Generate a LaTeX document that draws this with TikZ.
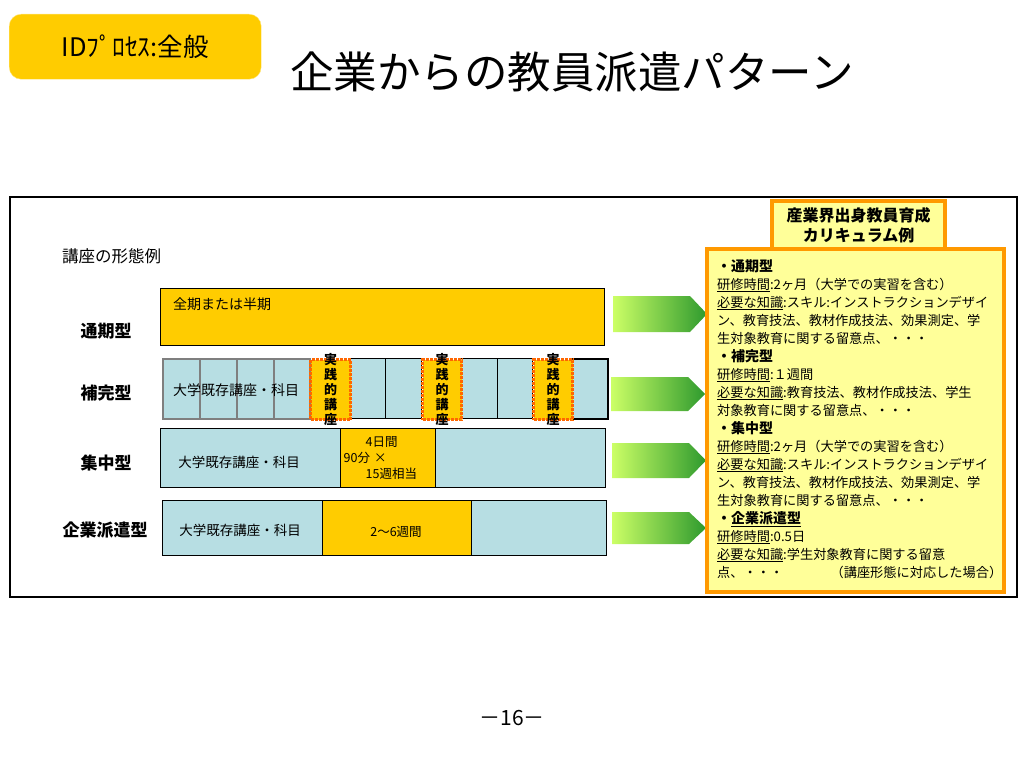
\documentclass[tikz,border=0pt]{standalone}
\usepackage{fontspec}
\setmainfont{Noto Sans CJK JP}
\usetikzlibrary{positioning}
\definecolor{tagyellow}{HTML}{FFCC00}
\definecolor{cellblue}{HTML}{B7DEE3}
\definecolor{panelyellow}{HTML}{FFFF99}
\definecolor{paneledge}{HTML}{FF9900}
\definecolor{dotorange}{HTML}{FF6600}
\definecolor{arrlight}{HTML}{CCFF66}
\definecolor{arrdark}{HTML}{2E9A2E}
\definecolor{cellgray}{HTML}{7F7F7F}
\newcommand{\hd}{\fontsize{14}{18}\selectfont\bfseries}

\begin{document}
\begin{tikzpicture}[x=1pt, y=-1pt, inner sep=0pt, tag/.style = {draw=tagyellow!50, fill=tagyellow, rounded corners=12pt, anchor=north west}, bar/.style = {draw, fill=tagyellow, anchor=north west}, cell/.style = {draw, fill=cellblue, anchor=north west, minimum height=60pt}, greycell/.style = {cell, draw=cellgray, line width=2pt}, jisen/.style = {draw=dotorange, densely dotted, line width=3pt, fill=tagyellow, anchor=north west, minimum height=60pt}, rowlbl/.style = {font=\fontsize{17}{20}\selectfont\bfseries}, boxtxt/.style = {font=\fontsize{13.5}{16}\selectfont}, vtxt/.style = {font=\fontsize{13}{15.2}\selectfont\bfseries, align=center}, arrshade/.style = {left color=arrlight, right color=arrdark}, panel/.style = {draw=paneledge, line width=4pt, fill=panelyellow, anchor=north west}]
                \useasboundingbox (0,0) rectangle (1024,768);
                \node[tag, minimum width=252pt, minimum height=65pt, font=\fontsize{25.5}{30}\selectfont] (tag) at (9,14) {IDﾌﾟﾛｾｽ:全般};
                \node (title) at (572,72) {\fontsize{43.5}{48}\selectfont 企業からの教員派遣パターン};
                \node[draw, line width=2pt, anchor=north west, minimum width=1007pt, minimum height=400pt] (frame) at (9,196) {};
                \node[anchor=west, font=\fontsize{16.5}{18}\selectfont] (katai) at (62,256) {講座の形態例};
                \node[rowlbl] (l1) at (106,331) {通期型};
                \node[rowlbl] (l2) at (106,393) {補完型};
                \node[rowlbl] (l3) at (106,463) {集中型};
                \node[rowlbl] (l4) at (105,530) {企業派遣型};
                \node[bar, minimum width=444pt, minimum height=57pt] (tsuki) at (160,288) {};
                \node[font=\fontsize{14}{16}\selectfont] (tsukitxt) [below right=10pt and 13pt of tsuki.north west] {全期または半期};
                \foreach \x/\w [count=\i] in {162/37,199/37,236/37,273/36}
                    \node[greycell, minimum width=\w pt] (g\i) at (\x,358) {};
                \foreach \x/\w [count=\i] in {349/36,385/36,460/37,497/35}
                    \node[cell, minimum width=\w pt] (k\i) at (\x,358) {};
                \node[cell, line width=2pt, minimum width=36pt] (kend) at (571,358) {};
                \foreach \x/\w [count=\i] in {309/40,421/39,532/39} {
                    \node[jisen, minimum width=\w pt] (j\i) at (\x,358) {};
                    \node[vtxt] (jt\i) at (j\i.center) {実\\践\\的\\講\\座};
                }
                \node[boxtxt, font=\fontsize{14}{16}\selectfont] (hokantxt) at (236,390) {大学既存講座・科目};
                \node[cell, minimum width=445pt, minimum height=59pt] (shuchu) at (160,428) {};
                \node[bar, minimum width=95pt, minimum height=59pt] (shuchuy) at (340,428) {};
                \node[boxtxt] (shuchutxt) at (239,462) {大学既存講座・科目};
                \node[font=\fontsize{12.5}{16}\selectfont, text width=88pt, align=left] (shuchuytxt) at (shuchuy.center) {\hspace*{22pt}4日間\\90分 ×\\\hspace*{22pt}15週相当};
                \node[cell, minimum width=444pt, minimum height=55pt] (haken) at (162,500) {};
                \node[bar, minimum width=149pt, minimum height=55pt] (hakeny) at (322,500) {};
                \node[boxtxt] (hakentxt) at (240,530) {大学既存講座・科目};
                \node[font=\fontsize{12.5}{14}\selectfont] (hakenytxt) at (396,532) {2〜6週間};
                \foreach \x/\y/\h [count=\i] in {613/296/36,611/377/34,612/443/35,612/512/32} {
                    \coordinate (a\i) at (\x,\y);
                    \shade[arrshade] (a\i) -- ++(77,0) -- ++(17,\h/2) -- ++(-17,\h/2) -- ++(-77,0) -- cycle;
                }
                \node[panel, minimum width=297pt, minimum height=343pt] (panel) at (705,247) {};
                \node[panel, minimum width=173pt, minimum height=48pt, align=center, font=\fontsize{16}{20}\selectfont\bfseries] (curri) at (770,199) {産業界出身教員育成\\カリキュラム例};
                \node[anchor=north west, text width=285pt, align=left, font=\fontsize{13.2}{18}\selectfont] (kari) at (717,259) {{\hd ・通期型}\\
\underline{研修時間}:2ヶ月（大学での実習を含む）\\
\underline{必要な知識}:スキル:インストラクションデザイ\\
ン、教育技法、教材作成技法、効果測定、学\\
生対象教育に関する留意点、・・・\\
{\hd ・補完型}\\
\underline{研修時間}:１週間\\
\underline{必要な知識}:教育技法、教材作成技法、学生\\
対象教育に関する留意点、・・・\\
{\hd ・集中型}\\
\underline{研修時間}:2ヶ月（大学での実習を含む）\\
\underline{必要な知識}:スキル:インストラクションデザイ\\
ン、教育技法、教材作成技法、効果測定、学\\
生対象教育に関する留意点、・・・\\
{\hd ・\underline{企業派遣型}}\\
\underline{研修時間}:0.5日\\
\underline{必要な知識}:学生対象教育に関する留意\\
点、・・・\hspace{0pt plus 1filll}（講座形態に対応した場合）};
                \node[font=\fontsize{21}{24}\selectfont] (page) at (512,718) {－16－};
            \end{tikzpicture}
\end{document}
